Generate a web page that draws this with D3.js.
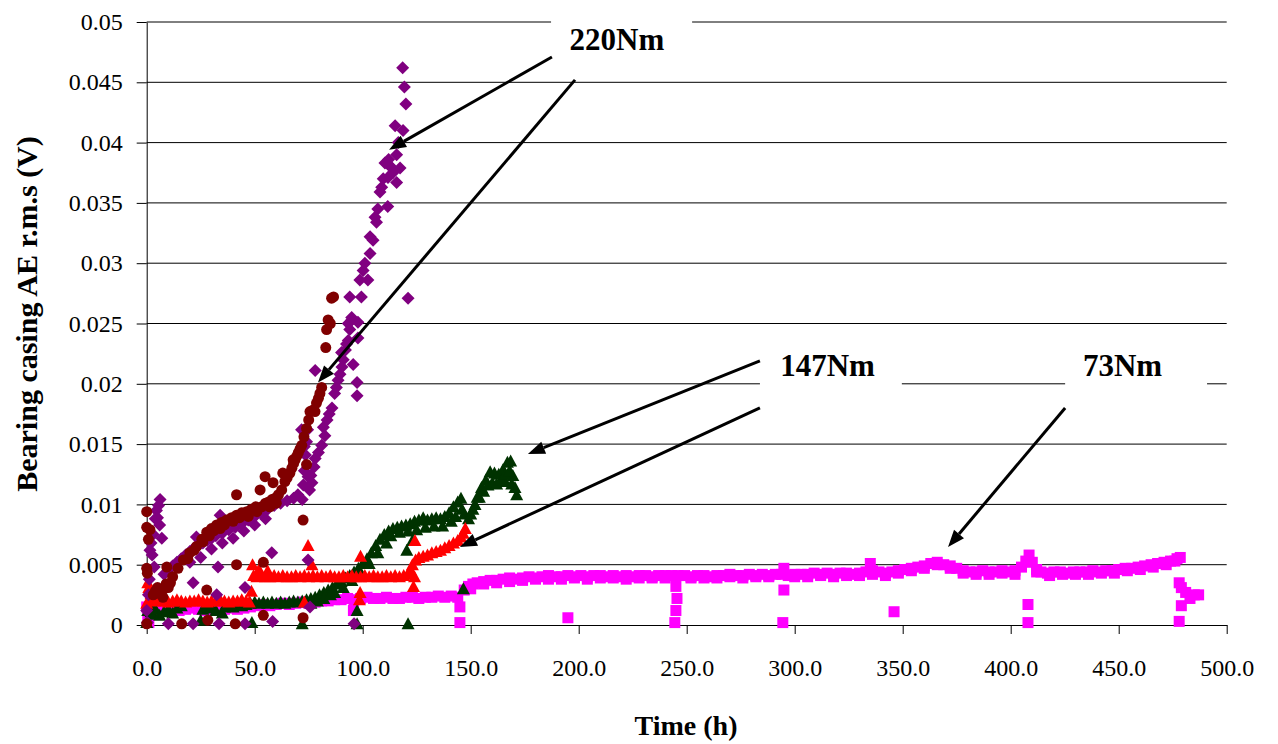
<!DOCTYPE html>
<html>
<head>
<meta charset="utf-8">
<script src="https://cdn.jsdelivr.net/npm/d3@7"></script>
<style>
  body { margin: 0; background: #fff; }
  svg { display: block; }
</style>
</head>
<body>
<svg id="chart" width="1278" height="744"></svg>
<script>
// Axis ticks
const xTicks = [0, 50, 100, 150, 200, 250, 300, 350, 400, 450, 500];
const yTicks = [0, 0.005, 0.01, 0.015, 0.02, 0.025, 0.03, 0.035, 0.04, 0.045, 0.05];

// 73Nm run: [time (h), AE r.m.s (V)]
const run73 = [
  [0,0.0015],[0.5,0.0008],[1,0.0002],[2,0.0012],[3,0.0013],[6,0.0012],[9,0.0013],[12,0.0014],[15,0.0012],
  [18,0.0013],[21,0.0014],[24,0.0013],[27,0.0012],[30,0.0013],[33,0.0014],[36,0.0013],[39,0.0014],[42,0.0013],
  [45,0.0014],[48,0.0015],[51,0.0016],[54,0.0017],[57,0.0016],[60,0.0017],[63,0.0018],[66,0.0017],[69,0.0018],
  [72,0.0019],[75,0.0018],[78,0.0019],[81,0.002],[84,0.002],[87,0.0021],[90,0.0021],[93,0.0022],[95.7,0.0012],
  [96,0.0021],[99,0.0022],[102,0.0023],[105,0.0022],[108,0.0022],[111,0.0023],[114,0.0022],[117,0.0022],
  [120,0.0023],[123,0.0023],[126,0.0022],[129,0.0023],[132,0.0023],[135,0.0024],[138,0.0023],[141,0.0024],
  [144,0.0023],[145,0.0015],[145,0.0002],[147,0.0029],[149,0.0032],[151,0.0034],[153,0.0035],[156,0.0036],
  [159,0.0037],[162,0.0037],[165,0.0038],[168,0.0039],[171,0.0038],[174,0.0039],[177,0.004],[180,0.0039],
  [183,0.004],[186,0.0041],[189,0.004],[192,0.004],[195,0.0041],[195,0.0006],[198,0.004],[201,0.0041],
  [204,0.004],[207,0.0041],[210,0.0041],[213,0.004],[216,0.0041],[219,0.004],[222,0.0041],[225,0.004],
  [228,0.0041],[231,0.0041],[234,0.004],[237,0.0041],[240,0.0041],[243,0.0041],[245,0.0032],[245.5,0.0022],
  [245,0.0012],[244.5,0.0002],[246,0.0041],[249,0.0041],[252,0.004],[255,0.0041],[258,0.0041],[261,0.004],
  [264,0.0041],[267,0.0041],[270,0.0042],[273,0.0041],[276,0.0041],[279,0.0042],[282,0.0041],[285,0.0042],
  [288,0.0041],[291,0.0042],[294,0.0042],[295,0.0047],[295,0.0029],[294.5,0.0002],[297,0.0041],[300,0.0042],
  [303,0.0042],[306,0.0042],[309,0.0043],[312,0.0042],[315,0.0043],[318,0.0042],[321,0.0043],[324,0.0043],
  [327,0.0042],[330,0.0043],[333,0.0044],[335,0.0051],[336,0.0045],[339,0.0044],[342,0.0043],[345,0.0044],
  [346,0.0011],[348,0.0045],[351,0.0046],[354,0.0047],[357,0.0048],[360,0.0049],[363,0.0051],[366,0.0052],
  [369,0.005],[372,0.0049],[375,0.0047],[378,0.0045],[381,0.0044],[384,0.0044],[387,0.0045],[390,0.0044],
  [393,0.0044],[396,0.0045],[399,0.0044],[402,0.0045],[405,0.0048],[407,0.0053],[408.5,0.0058],[408,0.0017],
  [408,0.0002],[410,0.0052],[412,0.0046],[414,0.0044],[417,0.0043],[420,0.0044],[423,0.0044],[426,0.0043],
  [429,0.0044],[432,0.0044],[435,0.0044],[438,0.0045],[441,0.0044],[444,0.0045],[447,0.0045],[450,0.0046],
  [453,0.0047],[456,0.0047],[459,0.0048],[462,0.0049],[465,0.005],[468,0.0051],[471,0.0052],[474,0.0053],
  [477,0.0055],[478.5,0.0056],[478,0.0035],[479,0.0031],[481,0.0027],[483,0.0022],[485,0.0025],[487,0.0025],
  [479,0.0016],[478,0.0003],
  [150,0.003],[156,0.0034],[162,0.0035],[168,0.0036],[174,0.0037],[180,0.0038],[186,0.0038],[192,0.0038],
  [198,0.0039],[204,0.0038],[210,0.0039],[216,0.0039],[222,0.0038],[228,0.0039],[234,0.0039],[240,0.0039],
  [252,0.0039],[258,0.0039],[264,0.0039],[270,0.004],[276,0.0039],[282,0.004],[288,0.004],[300,0.004],
  [306,0.004],[312,0.0041],[318,0.004],[324,0.0041],[330,0.0041],[336,0.0042],[342,0.0041],[348,0.0043],
  [354,0.0045],[360,0.0047],[366,0.005],[372,0.0047],[378,0.0043],[384,0.0042],[390,0.0042],[396,0.0043],
  [402,0.0042],[412,0.0044],[418,0.0041],[424,0.0042],[430,0.0042],[436,0.0042],[442,0.0043],[448,0.0043],
  [454,0.0045],[460,0.0046],[466,0.0048],[472,0.005],[476,0.0053]
];

// 147Nm, first run
const run147a = [
  [0,0.0002],[0.5,0.0012],[1,0.0018],[2,0.0011],[3,0.0009],[4,0.0013],[6,0.0008],[8,0.0011],[10,0.0013],
  [12,0.001],[14,0.0014],[16,0.0016],[25,0.0004],[26,0.0013],[28,0.0015],[30,0.0014],[32,0.0012],[35,0.001],
  [36,0.0015],[38,0.0016],[40,0.0015],[42,0.0017],[44,0.0016],[46,0.0017],[48.7,0.0002],[48,0.0018],
  [50,0.0019],[52,0.0018],[54,0.0019],[56,0.0018],[58,0.0019],[60,0.0018],[62,0.0019],[64,0.0018],[66,0.0019],
  [68,0.002],[70,0.0019],[72,0.0001],[72,0.002],[74,0.0021],[76,0.0022],[78,0.0023],[80,0.0025],[82,0.0027],
  [84,0.0029],[86,0.0031],[87,0.0027],[88,0.0034],[90,0.0036],[91,0.0031],[92,0.0039],[94,0.0041],
  [95,0.0037],[96,0.0044],[97.4,0.0012],[97.4,0.0001],[98,0.0047],[99,0.0043],[100,0.0051],[102,0.0055],
  [103,0.0051],[104,0.006],[106,0.0066],[107,0.006],[108,0.0071],[110,0.0075],[111,0.0068],[112,0.0078],
  [114,0.008],[116,0.0081],[118,0.0082],[120,0.0083],[120.4,0.0062],[121,0.0001],[122,0.0084],[123,0.007],
  [124,0.0086],[126,0.0087],[128,0.0089],[130,0.0087],[132,0.0088],[134,0.0089],[136,0.0088],[138,0.009],
  [140,0.0093],[142,0.0098],[144,0.0102],[145.5,0.0105],[146.6,0.003],[147,0.0092],[149,0.0088],[151,0.0096],
  [153,0.0106],[155,0.0114],[157,0.012],[159,0.0127],[161,0.0126],[163,0.0125],[165,0.0129],[166,0.0119],
  [167,0.0135],[168.5,0.0136],[169.5,0.0124],[170.5,0.0114],[171.3,0.0108],
  [76,0.0018],[79,0.002],[82,0.0022],[85,0.0025],[113,0.0074],[117,0.0077],[121,0.0078],[125,0.0079],
  [129,0.0081],[133,0.0082],[137,0.0082],[141,0.0086],[143,0.009],[146,0.0096],[150,0.0092],[152,0.01],
  [154,0.0106],[156,0.0111],[158,0.0116],[160,0.0118],[162,0.0117],[164,0.012],[166,0.0125],[168,0.0128],
  [169,0.0117]
];

// 147Nm, second run
const run147b = [
  [0,0.0018],[0.5,0.0035],[1,0.0031],[2,0.0026],[3,0.0022],[4,0.002],[6,0.0021],[8,0.002],[10,0.0019],
  [12,0.002],[14,0.0021],[16,0.002],[18,0.0019],[20,0.002],[22,0.002],[24,0.0021],[26,0.002],[28,0.0019],
  [30,0.002],[32,0.002],[34,0.0021],[36,0.002],[38,0.0019],[40,0.002],[42,0.002],[44,0.0021],[46,0.002],
  [47.5,0.0019],[48.5,0.0028],[49,0.005],[49.5,0.0041],[51,0.004],[52,0.0046],[53,0.0041],[55,0.004],
  [56,0.0045],[57,0.004],[59,0.0041],[61,0.004],[63,0.0041],[65,0.004],[67,0.004],[69,0.0041],[71,0.004],
  [73,0.0019],[73,0.0041],[74.7,0.0066],[75,0.004],[76.5,0.005],[77,0.0041],[79,0.004],[81,0.0041],[83,0.004],
  [85,0.0041],[87,0.004],[89,0.004],[91,0.0041],[93,0.004],[95,0.0041],[97,0.004],[98.5,0.0021],[98.8,0.0027],
  [99,0.0057],[99,0.004],[101,0.0041],[103,0.004],[105,0.0041],[107,0.004],[109,0.004],[111,0.0041],
  [113,0.004],[115,0.0041],[117,0.004],[119,0.0041],[121,0.0042],[122,0.0046],[123,0.005],[123.5,0.0032],
  [124,0.004],[124.2,0.007],[124.5,0.0054],[126,0.0056],[128,0.0057],[130,0.0058],[132,0.006],[134,0.0061],
  [136,0.0062],[138,0.0064],[140,0.0066],[142,0.0068],[144,0.007],[145.5,0.0073],[146.5,0.0076],[147.5,0.008]
];

// 220Nm, first run
const run220a = [
  [0,0.0012],[0.3,0.0002],[0.8,0.0025],[1.2,0.0038],[1.5,0.0062],[2,0.0068],[2.5,0.0058],[3,0.0075],
  [3.5,0.0048],[4,0.0088],[4.5,0.0095],[5,0.0089],[5.5,0.0099],[6.2,0.0104],[7,0.0072],[6,0.0083],
  [10,0.0001],[21.5,0.0001],[33.5,0.0001],[45.5,0.0001],[58.3,0.0003],[96,0.0001],
  [21.5,0.0035],[33,0.0048],[45.5,0.0031],[32.4,0.0025],[57.9,0.006],[74.7,0.0054],[75.6,0.0015],
  [23,0.0073],[34,0.0091],
  [8,0.0042],[10,0.0046],[12,0.0049],[14,0.0052],[16,0.0055],[18,0.0058],[20,0.0052],[20,0.0061],[22,0.0064],
  [24,0.0066],[25,0.0056],[26,0.0068],[28,0.007],[30,0.0063],[30,0.0072],[32,0.0074],[35,0.0068],[35,0.0076],
  [38,0.0079],[40,0.0072],[41,0.0081],[44,0.0084],[45,0.0078],[47,0.0087],[50,0.0083],[50,0.009],[53,0.0093],
  [55,0.0088],[56,0.0096],[59,0.0099],[62,0.0101],[65,0.0103],[68,0.0105],[70,0.0108],[72,0.0104],
  [71.7,0.0162],[72.5,0.0116],[73,0.0128],[73,0.0148],[73.5,0.0141],[74,0.0152],[74.5,0.0162],[74.7,0.0123],
  [75.4,0.0112],[76,0.0124],[76.5,0.0118],[77.5,0.0131],[78,0.0138],[79.5,0.0143],[81,0.0149],[81.8,0.0164],
  [82.5,0.0157],[83.5,0.017],[84.5,0.0175],[85.8,0.018],[87,0.0192],[87.8,0.0197],[88.6,0.0203],[89.5,0.0208],
  [90.4,0.0214],[90.2,0.0226],[91,0.022],[92,0.0228],[92.5,0.0233],[93.3,0.0236],[94,0.0245],[95,0.0253],
  [93.3,0.025],[94.9,0.0255],[94,0.0272],[97.8,0.0251],[97.8,0.0238],[98.7,0.0286],[99.4,0.0272],[100.2,0.0294],
  [101,0.03],[102.4,0.0286],[103.4,0.0308],[103.4,0.0322],[104.8,0.0319],[105.7,0.0338],[106.4,0.0334],
  [107,0.0345],[108,0.0359],[108.8,0.0363],[109.5,0.037],[110.3,0.0383],[111.6,0.0347],[111.7,0.0371],
  [112,0.0386],[112.5,0.0381],[113.4,0.0379],[114,0.0375],[115.7,0.0367],[115.7,0.039],[116.5,0.04],
  [117.3,0.0379],[115,0.0414],[118.7,0.041],[118.5,0.0462],[119.3,0.0446],[120,0.0432],[121,0.0271],
  [78,0.0211],[95.6,0.0216],[97.4,0.0201],[97.4,0.019]
];

// 220Nm, second run
const run220b = [
  [0,0.0001],[0,0.0094],[0,0.0081],[1.5,0.0079],[0.8,0.0071],[0,0.0047],[0.3,0.0043],
  [3,0.0025],[4,0.0028],[5,0.0031],[6,0.0026],[7.5,0.0023],[8,0.003],[9,0.0034],[10,0.0031],[11,0.0035],
  [9.3,0.0048],[12,0.004],[14.5,0.0047],[17,0.0054],[19,0.0055],[20,0.006],[22,0.0062],[23,0.0065],
  [25.5,0.0071],[26,0.0069],[27.8,0.0077],[29,0.0074],[30,0.008],[31,0.0078],[32.4,0.0083],[34,0.008],
  [34.7,0.0085],[36,0.0083],[37,0.0087],[39.3,0.0089],[40,0.0086],[41.6,0.0091],[43,0.0089],[44,0.0093],
  [46.3,0.0094],[47,0.009],[48.5,0.0096],[50.5,0.0098],[51,0.0094],[53.2,0.0098],[55,0.0101],[56.5,0.0102],
  [57,0.0098],[58,0.0104],[59.4,0.0105],[60,0.0101],[61,0.0108],[62.5,0.0112],[64,0.0119],[65,0.0122],
  [66.3,0.0126],[67.2,0.013],[68,0.0134],[68.7,0.0137],[69.5,0.014],[70.2,0.0143],[71,0.0146],[71.8,0.0149],
  [72.8,0.0156],[74,0.0163],[75,0.017],[75.6,0.0177],[76.8,0.0178],[77.9,0.0177],[78.6,0.0184],[79.5,0.0188],
  [80.2,0.0192],[81,0.0197],[82.9,0.023],[83.3,0.0245],[84,0.0253],[85,0.025],[85.6,0.0271],[86.5,0.0272],
  [41.6,0.0108],[52.5,0.0112],[54.8,0.0123],[58.5,0.0118],[63,0.0126],[67.8,0.0137],[74,0.0133],[72.4,0.0087],
  [27.8,0.0029],[41.6,0.005],[54,0.0052],[54,0.0008],[72.4,0.0006],[28.3,0.0004],[16.2,0.0001],[41,0.0001]
];

// Callout labels and the points their arrows aim at (time, value)
const callouts = [
  { text: "220Nm", at: [217.7, 0.0477], box: [187.2, 252.5, 0.0511, 0.0452],
    arrows: [[[187.6, 0.0471], [112.2, 0.0394]], [[198.3, 0.0452], [79.3, 0.0201]]] },
  { text: "147Nm", at: [315.2, 0.02065], box: [283.9, 349.6, 0.0235, 0.018],
    arrows: [[[283.9, 0.0219], [176.5, 0.01418]], [[283.9, 0.018], [145.0, 0.00647]]] },
  { text: "73Nm", at: [451.8, 0.02065], box: [425.2, 490.9, 0.0235, 0.018],
    arrows: [[[425.2, 0.018], [371.0, 0.00647]]] }
];

const svg = d3.select("#chart");
const W = 1278, H = 744;
svg.append("rect").attr("width", W).attr("height", H).attr("fill", "#fff");

const x = d3.scaleLinear().domain([0, 500]).range([146.7, 1226.7]);
const y = d3.scaleLinear().domain([0, 0.05]).range([625, 22]);

const serif = "'Liberation Serif', 'Times New Roman', Times, serif";

// Horizontal gridlines
svg.append("g").selectAll("line")
  .data(yTicks.filter(d => d > 0))
  .join("line")
  .attr("x1", x(0)).attr("x2", x(500))
  .attr("y1", d => y(d)).attr("y2", d => y(d))
  .attr("stroke", "#000").attr("stroke-width", 1);

// Axes
const fmtY = d => d === 0 ? "0" : String(+d.toFixed(3));
const xAxis = d3.axisBottom(x).tickValues(xTicks).tickSize(9).tickSizeOuter(0)
  .tickPadding(25).tickFormat(d3.format(".1f"));
const yAxis = d3.axisLeft(y).tickValues(yTicks).tickSize(10).tickSizeOuter(0)
  .tickPadding(14).tickFormat(fmtY);

const gx = svg.append("g").attr("transform", `translate(0,${y(0)})`).call(xAxis);
const gy = svg.append("g").attr("transform", `translate(${x(0)},0)`).call(yAxis);
[gx, gy].forEach(g => {
  g.selectAll("path, line").attr("stroke", "#000").attr("stroke-width", 1);
  g.selectAll("text").attr("fill", "#000").style("font-family", serif).style("font-size", "24px");
});

// Markers
const diamond = "M0,-6.5L6.5,0L0,6.5L-6.5,0Z";
const triangle = "M0,-6.5L6.5,5.5L-6.5,5.5Z";

svg.append("g").selectAll("rect").data(run73).join("rect")
  .attr("x", d => x(d[0]) - 5.5).attr("y", d => y(d[1]) - 5.5)
  .attr("width", 11).attr("height", 11).attr("fill", "#ff00ff");

svg.append("g").selectAll("path").data(run147a).join("path")
  .attr("d", triangle).attr("transform", d => `translate(${x(d[0])},${y(d[1])})`)
  .attr("fill", "#003300");

svg.append("g").selectAll("path").data(run147b).join("path")
  .attr("d", triangle).attr("transform", d => `translate(${x(d[0])},${y(d[1])})`)
  .attr("fill", "#ff0000");

svg.append("g").selectAll("path").data(run220a).join("path")
  .attr("d", diamond).attr("transform", d => `translate(${x(d[0])},${y(d[1])})`)
  .attr("fill", "#800080");

svg.append("g").selectAll("circle").data(run220b).join("circle")
  .attr("cx", d => x(d[0])).attr("cy", d => y(d[1])).attr("r", 5.5)
  .attr("fill", "#800000");

// Callouts: white label boxes, arrows, bold labels
const ann = svg.append("g");
callouts.forEach(c => {
  ann.append("rect")
    .attr("x", x(c.box[0])).attr("y", y(c.box[2]))
    .attr("width", x(c.box[1]) - x(c.box[0]))
    .attr("height", y(c.box[3]) - y(c.box[2]))
    .attr("fill", "#fff");
  c.arrows.forEach(([from, to]) => {
    const x1 = x(from[0]), y1 = y(from[1]), x2 = x(to[0]), y2 = y(to[1]);
    const ang = Math.atan2(y2 - y1, x2 - x1);
    const len = 17, half = 6.5;
    const bx = x2 - len * Math.cos(ang), by = y2 - len * Math.sin(ang);
    ann.append("line")
      .attr("x1", x1).attr("y1", y1).attr("x2", bx).attr("y2", by)
      .attr("stroke", "#000").attr("stroke-width", 3);
    const px = -Math.sin(ang) * half, py = Math.cos(ang) * half;
    ann.append("path")
      .attr("d", `M${x2},${y2}L${bx + px},${by + py}L${bx - px},${by - py}Z`)
      .attr("fill", "#000");
  });
  ann.append("text")
    .attr("x", x(c.at[0])).attr("y", y(c.at[1]))
    .attr("text-anchor", "middle")
    .style("font-family", serif).style("font-size", "31px").style("font-weight", "bold")
    .text(c.text);
});

// Axis titles
svg.append("text")
  .attr("x", 686).attr("y", 735).attr("text-anchor", "middle")
  .style("font-family", serif).style("font-size", "28px").style("font-weight", "bold")
  .text("Time (h)");

svg.append("text")
  .attr("transform", "translate(37,314) rotate(-90)")
  .attr("text-anchor", "middle")
  .style("font-family", serif).style("font-size", "30px").style("font-weight", "bold")
  .text("Bearing casing AE r.m.s (V)");
</script>
</body>
</html>
